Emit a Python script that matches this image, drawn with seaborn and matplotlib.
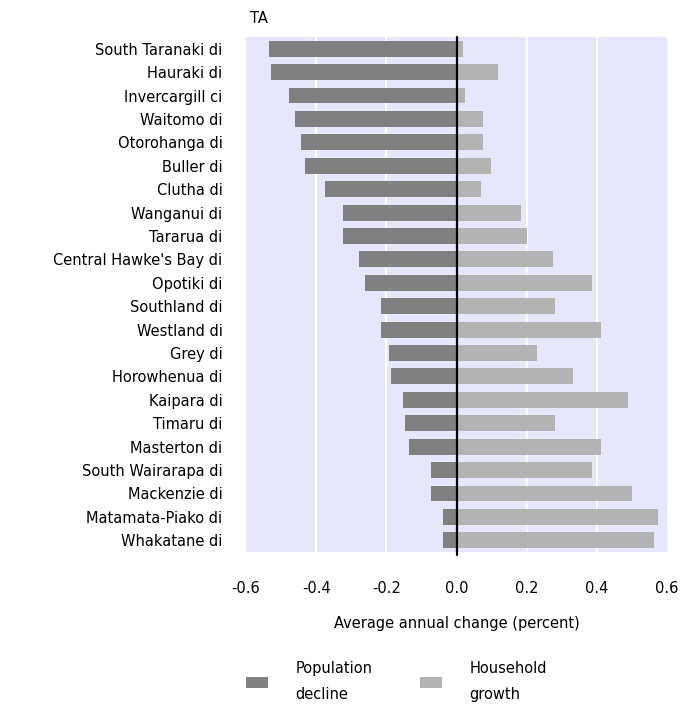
import matplotlib
matplotlib.use("Agg")
import matplotlib.pyplot as plt
import seaborn as sns
import pandas as pd
from matplotlib.patches import Patch

categories = ["South Taranaki di", "Hauraki di", "Invercargill ci", "Waitomo di",
              "Otorohanga di", "Buller di", "Clutha di", "Wanganui di", "Tararua di",
              "Central Hawke's Bay di", "Opotiki di", "Southland di", "Westland di",
              "Grey di", "Horowhenua di", "Kaipara di", "Timaru di", "Masterton di",
              "South Wairarapa di", "Mackenzie di", "Matamata-Piako di", "Whakatane di"]
population_decline = [-0.535, -0.530, -0.478, -0.461, -0.444, -0.432, -0.375, -0.324,
                      -0.324, -0.278, -0.261, -0.215, -0.215, -0.192, -0.187, -0.153,
                      -0.147, -0.135, -0.073, -0.073, -0.038, -0.038]
household_growth = [0.019, 0.117, 0.025, 0.076, 0.076, 0.099, 0.070, 0.185,
                    0.202, 0.276, 0.385, 0.282, 0.413, 0.230, 0.333, 0.488,
                    0.282, 0.413, 0.385, 0.499, 0.573, 0.562]
xticks = [-0.6, -0.4, -0.2, 0.0, 0.2, 0.4, 0.6]
xtick_labels = ["-0.6", "-0.4", "-0.2", "0.0", "0.2", "0.4", "0.6"]

dark = "#808080"
light = "#b3b3b3"
bg = "#e6e6fc"

sns.set_theme(style="white")
plt.rcParams['font.family'] = ['DejaVu Sans']

df = pd.DataFrame({"TA": categories, "decline": population_decline, "growth": household_growth})

fig = plt.figure(figsize=(6.82, 7.06), dpi=100)
ax = fig.add_axes([246/682, 1 - 552/706, (667-246)/682, (552-37)/706])
ax.set_facecolor(bg)

sns.barplot(data=df, x="decline", y="TA", order=categories, color=dark, width=0.68,
            saturation=1, ax=ax, zorder=3, linewidth=0, edgecolor="none")
sns.barplot(data=df, x="growth", y="TA", order=categories, color=light, width=0.68,
            saturation=1, ax=ax, zorder=3, linewidth=0, edgecolor="none")

ax.set_xlim(-0.6, 0.6)
ax.set_ylim(len(categories) - 0.5, -0.5)
for g in [-0.4, -0.2, 0.2, 0.4]:
    ax.axvline(g, color="white", lw=1.5, zorder=1)
ax.axvline(0, color="black", lw=1.6, zorder=5, ymin=-0.006, clip_on=False)

ax.set_xticks(xticks)
ax.set_xticklabels(xtick_labels)
ax.tick_params(axis="x", length=0, pad=21, labelsize=10.5, colors="black")
ax.tick_params(axis="y", length=0, pad=17, labelsize=10.5, colors="black")
for s in ax.spines.values():
    s.set_visible(False)

ax.set_xlabel("Average annual change (percent)", fontsize=10.5, labelpad=14, color="black")
ax.set_ylabel("")
ax.set_title("TA", loc="left", fontsize=10.5, pad=10, color="black", x=0.01)

handles = [Patch(facecolor=dark, edgecolor="none"), Patch(facecolor=light, edgecolor="none")]
leg = fig.legend(handles, ["Population\ndecline", "Household\ngrowth"],
                 loc="upper left", bbox_to_anchor=(233/682, 1 - 648/706), ncol=2,
                 frameon=False, fontsize=10.5, handlelength=1.5, handleheight=0.7,
                 handletextpad=1.9, columnspacing=3.25, labelcolor="black")
for t in leg.get_texts():
    t.set_linespacing(1.9)

fig.savefig("out.png", dpi=100)
